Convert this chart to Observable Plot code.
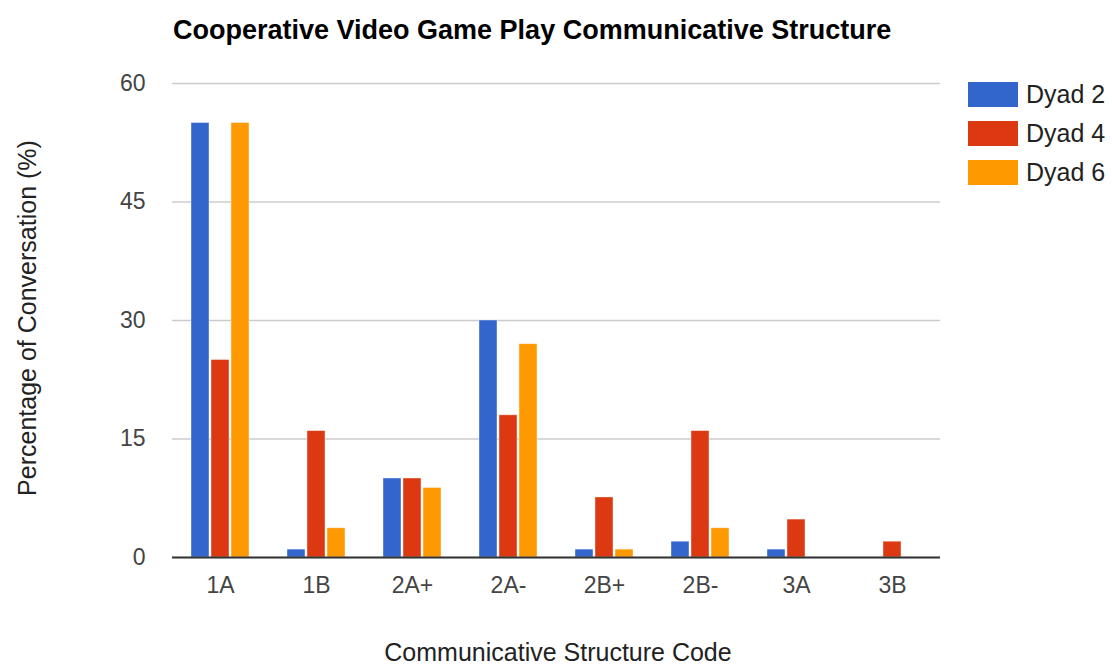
<!DOCTYPE html>
<html>
<head>
<meta charset="utf-8">
<script src="https://cdn.jsdelivr.net/npm/d3@7"></script>
<script src="https://cdn.jsdelivr.net/npm/@observablehq/plot@0.6"></script>
<style>
  html, body { margin: 0; padding: 0; background: #fff; }
  #wrap { position: relative; width: 1112px; height: 664px; font-family: "Liberation Sans", Arial, sans-serif; }
  #wrap svg { position: absolute; left: 0; top: 0; }
  .title { position: absolute; left: 173px; top: 17px; font-size: 27px; line-height: 1; font-weight: bold; color: #000; white-space: nowrap; }
  .xtitle { position: absolute; left: 0; width: 1116px; text-align: center; top: 640px; font-size: 25px; line-height: 1; color: #222; }
  .ytitle { position: absolute; left: 27px; top: 318px; transform: translate(-50%, -50%) rotate(-90deg); font-size: 25px; line-height: 1; color: #222; white-space: nowrap; }
  .legend { position: absolute; left: 968px; top: 82px; }
  .legend .row { display: flex; align-items: center; height: 25px; margin-bottom: 14px; }
  .legend .sw { width: 50px; height: 25px; margin-right: 8px; }
  .legend .lb { font-size: 25px; line-height: 1; color: #222; }
</style>
</head>
<body>
<div id="wrap">
  <div class="title">Cooperative Video Game Play Communicative Structure</div>
  <div class="xtitle">Communicative Structure Code</div>
  <div class="ytitle">Percentage of Conversation (%)</div>
  <div class="legend" id="legend"></div>
</div>
<script>
const categories = ["1A", "1B", "2A+", "2A-", "2B+", "2B-", "3A", "3B"];
const series = ["Dyad 2", "Dyad 4", "Dyad 6"];
const dyad2 = [55, 1, 10, 30, 1, 2, 1, 0];
const dyad4 = [25, 16, 10, 18, 7.6, 16, 4.8, 2];
const dyad6 = [55, 3.7, 8.8, 27, 1, 3.7, 0, 0];
const colors = ["#3366cc", "#dc3912", "#ff9900"];
const yTicks = [0, 15, 30, 45, 60];

const values = [dyad2, dyad4, dyad6];
const data = [];
categories.forEach((c, i) => {
  series.forEach((s, j) => data.push({category: c, series: s, value: values[j][i]}));
});

const chart = Plot.plot({
  width: 1112,
  height: 664,
  marginTop: 83,
  marginBottom: 107,
  marginLeft: 172,
  marginRight: 172,
  style: {fontFamily: "Liberation Sans, Arial, sans-serif", fontSize: "23px", background: "transparent"},
  fx: {domain: categories, padding: 0, label: null, axis: null},
  x: {domain: series, paddingInner: 0.1, paddingOuter: 0.84, axis: null},
  y: {domain: [0, 60], axis: null},
  color: {domain: series, range: colors},
  marks: [
    Plot.gridY(yTicks, {stroke: "#cccccc", strokeOpacity: 1, strokeWidth: 1.5}),
    Plot.axisY(yTicks, {tickSize: 0, tickPadding: 27, label: null, fontSize: 23, color: "#444"}),
    Plot.barY(data.filter(d => d.value > 0), {fx: "category", x: "series", y: "value", fill: "series", stroke: "white", strokeOpacity: 0.5, strokeWidth: 0.8}),
    Plot.axisFx({anchor: "bottom", tickSize: 0, tickPadding: 19, label: null, fontSize: 23, color: "#444"}),
    Plot.ruleY([0], {stroke: "#333", strokeWidth: 2})
  ]
});
document.getElementById("wrap").prepend(chart);

const legend = document.getElementById("legend");
series.forEach((s, i) => {
  const row = document.createElement("div");
  row.className = "row";
  row.innerHTML = `<div class="sw" style="background:${colors[i]}"></div><div class="lb">${s}</div>`;
  legend.appendChild(row);
});
</script>
</body>
</html>
